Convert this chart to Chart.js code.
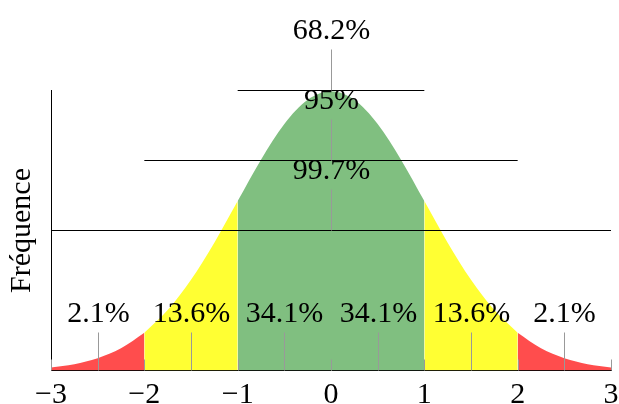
<!DOCTYPE html>
<html>
<head>
<meta charset="utf-8">
<script src="https://cdn.jsdelivr.net/npm/chart.js@4/dist/chart.umd.min.js"></script>
<style>
  html, body { margin: 0; padding: 0; background: #fff; }
  canvas { display: block; }
</style>
</head>
<body>
<canvas id="c" width="619" height="404"></canvas>
<script>
// ---- data ----
const xValues = [-3, -2.75, -2.5, -2.25, -2, -1.75, -1.5, -1.25, -1, -0.75, -0.5, -0.25, 0,
                 0.25, 0.5, 0.75, 1, 1.25, 1.5, 1.75, 2, 2.25, 2.5, 2.75, 3];
const frequency = [0.0044, 0.0091, 0.0175, 0.0317, 0.054, 0.0863, 0.1295, 0.1826, 0.242, 0.3011, 0.3521, 0.3867, 0.3989,
                   0.3867, 0.3521, 0.3011, 0.242, 0.1826, 0.1295, 0.0863, 0.054, 0.0317, 0.0175, 0.0091, 0.0044];
const regionStarts = [-3, -2, -1, 1, 2];
const regionEnds = [-2, -1, 1, 2, 3];
const regionColors = ['rgb(255,77,77)', 'rgb(255,255,51)', 'rgb(128,191,128)', 'rgb(255,255,51)', 'rgb(255,77,77)'];
const bandCenters = [-2.5, -1.5, -0.5, 0.5, 1.5, 2.5];
const bandLabels = ['2.1%', '13.6%', '34.1%', '34.1%', '13.6%', '2.1%'];
const spreadLabels = ['68.2%', '95%', '99.7%'];
const spreadLevels = [0.4, 0.3, 0.2];
const spreadHalfWidths = [1, 2, 3];
const tickValues = [-3, -2, -1, 0, 1, 2, 3];
const tickLabels = ['\u22123', '\u22122', '\u22121', '0', '1', '2', '3'];
const yTitle = 'Fréquence';

const FONT = '"Liberation Serif", "Times New Roman", serif';

// ---- build datasets ----
const datasets = [];
spreadLevels.forEach((lv, i) => {
  datasets.push({
    type: 'line',
    data: [{x: -spreadHalfWidths[i], y: lv}, {x: spreadHalfWidths[i], y: lv}],
    borderColor: '#000', borderWidth: 1, pointRadius: 0, fill: false, clip: false
  });
});
regionStarts.forEach((a, r) => {
  const b = regionEnds[r];
  const pts = [];
  xValues.forEach((x, i) => { if (x >= a - 1e-9 && x <= b + 1e-9) pts.push({x: x, y: frequency[i]}); });
  datasets.push({
    type: 'line',
    data: pts,
    borderWidth: 0, borderColor: 'rgba(0,0,0,0)',
    backgroundColor: regionColors[r],
    fill: 'origin', pointRadius: 0,
    cubicInterpolationMode: 'monotone'
  });
});

const annot = {
  id: 'annot',
  afterDatasetsDraw(chart) {
    const ctx = chart.ctx;
    const xs = chart.scales.x, ys = chart.scales.y;
    ctx.save();
    ctx.strokeStyle = '#999';
    ctx.lineWidth = 1;
    // inward integer ticks
    tickValues.forEach(v => {
      const px = Math.round(xs.getPixelForValue(v)) + 0.5;
      const py = ys.getPixelForValue(0);
      ctx.beginPath(); ctx.moveTo(px, py); ctx.lineTo(px, py - 11); ctx.stroke();
    });
    ctx.font = '30px ' + FONT;
    ctx.fillStyle = '#000';
    ctx.textAlign = 'center';
    ctx.textBaseline = 'alphabetic';
    // band pins
    bandCenters.forEach((v, i) => {
      const px = Math.round(xs.getPixelForValue(v)) + 0.5;
      const py = ys.getPixelForValue(0);
      ctx.beginPath(); ctx.moveTo(px, py); ctx.lineTo(px, py - 38); ctx.stroke();
      ctx.fillText(bandLabels[i], px, py - 49);
    });
    // spread pins
    spreadLevels.forEach((lv, i) => {
      const px = Math.round(xs.getPixelForValue(0)) + 0.5;
      const py = ys.getPixelForValue(lv);
      ctx.beginPath(); ctx.moveTo(px, py); ctx.lineTo(px, py - 41); ctx.stroke();
      ctx.fillText(spreadLabels[i], px, py - 52);
    });
    ctx.restore();
  }
};

new Chart(document.getElementById('c'), {
  type: 'line',
  data: { datasets: datasets },
  options: {
    responsive: false,
    animation: false,
    events: [],
    layout: { padding: { top: 90.5, right: 8, left: 0, bottom: 0 } },
    plugins: { legend: { display: false }, tooltip: { enabled: false } },
    scales: {
      x: {
        type: 'linear', min: -3, max: 3,
        afterBuildTicks: (s) => { s.ticks = tickValues.map(v => ({value: v})); },
        ticks: {
          font: { family: FONT, size: 30 }, color: '#000', padding: 7,
          maxRotation: 0, autoSkip: false,
          callback: (v) => { const i = tickValues.indexOf(v); return i >= 0 ? tickLabels[i] : ''; }
        },
        grid: { drawOnChartArea: false, drawTicks: false },
        border: { display: true, color: '#000', width: 1 },
        afterFit: (s) => { s.height = 33.5; s.paddingLeft = 0; s.paddingRight = 0; }
      },
      y: {
        type: 'linear', min: 0, max: 0.4,
        ticks: { display: false },
        grid: { drawOnChartArea: false, drawTicks: false },
        border: { display: true, color: '#000', width: 1 },
        title: { display: true, text: yTitle, color: '#000', font: { family: FONT, size: 30 }, padding: { top: 4, bottom: 4 } },
        afterFit: (s) => { s.width = 51; s.paddingTop = 0; s.paddingBottom = 0; }
      }
    }
  },
  plugins: [annot]
});
</script>
</body>
</html>
